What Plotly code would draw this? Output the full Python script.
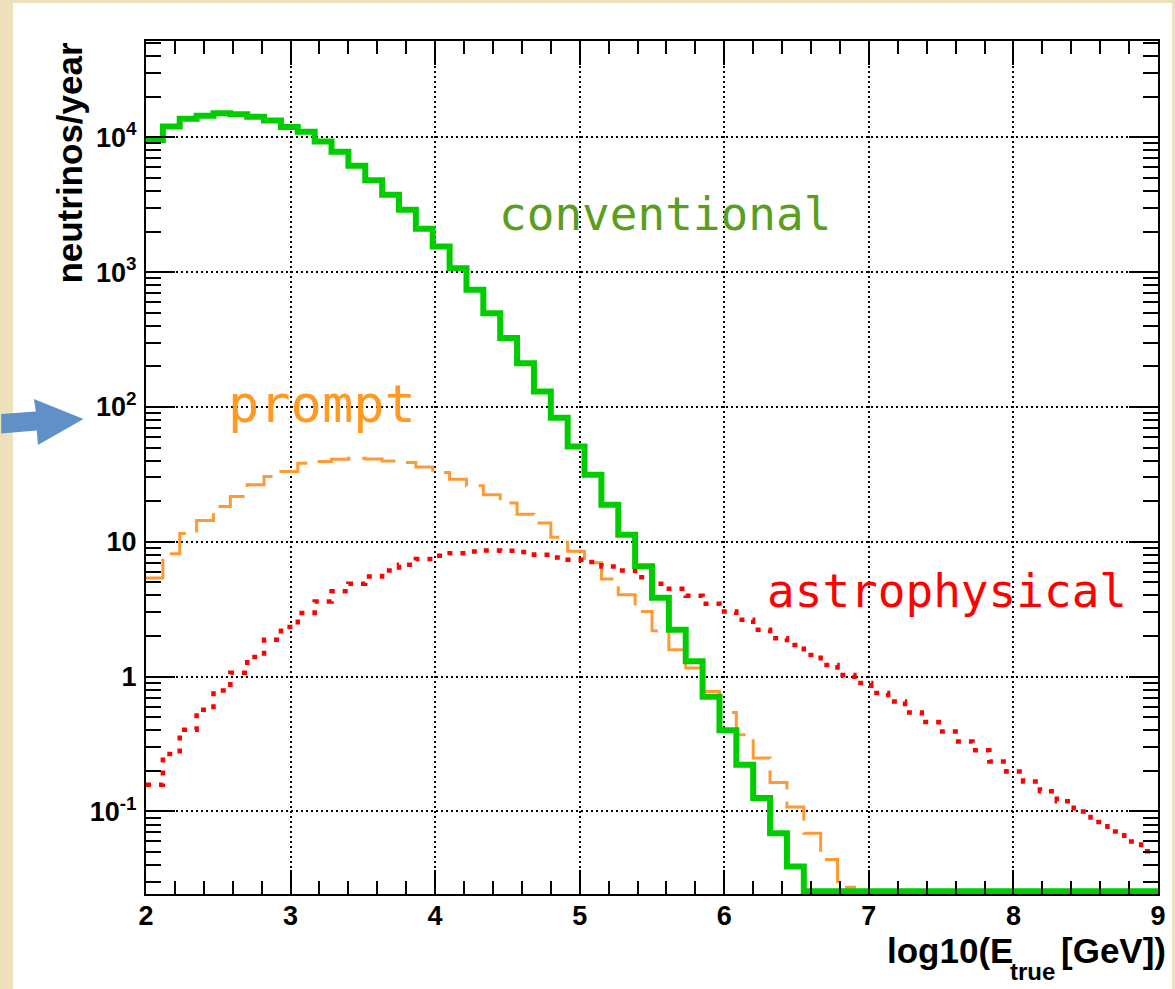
import numpy as np
import plotly.graph_objects as go

# ---------------- data (60 bins in log10(E/GeV) from 2 to 9) ----------------
x_lo, x_hi, n_bins = 2.0, 9.0, 60

conventional = [9500, 12000, 13700, 14450, 15100, 14800, 14200, 13300, 11900, 11000,
                9300, 7800, 6150, 4800, 3750, 2900, 2100, 1550, 1070, 740,
                495, 325, 211, 130, 83, 51, 31.4, 18.8, 11.3, 6.6,
                3.85, 2.23, 1.30, 0.71, 0.40, 0.222, 0.126, 0.069, 0.039, 0,
                0, 0, 0, 0, 0, 0, 0, 0, 0, 0,
                0, 0, 0, 0, 0, 0, 0, 0, 0, 0]

prompt = [5.4, 8.15, 11.5, 14.4, 18.3, 21.7, 26.5, 30.5, 33.2, 38.3,
          39.4, 41.0, 41.7, 41.2, 39.8, 38.7, 35.8, 32.7, 29.1, 26.0,
          22.3, 19.4, 16.0, 13.8, 10.8, 8.5, 7.0, 5.3, 4.05, 3.04,
          2.19, 1.58, 1.16, 0.776, 0.542, 0.37, 0.249, 0.164, 0.108, 0.069,
          0.044, 0.0274, 0, 0, 0, 0, 0, 0, 0, 0,
          0, 0, 0, 0, 0, 0, 0, 0, 0, 0]

astrophysical = [0.158, 0.267, 0.404, 0.569, 0.79, 1.07, 1.40, 1.88, 2.33, 2.96,
                 3.61, 4.29, 4.89, 5.53, 6.13, 6.76, 7.44, 7.88, 8.24, 8.47,
                 8.62, 8.58, 8.39, 8.01, 7.65, 7.36, 7.08, 6.56, 6.13, 5.47,
                 4.88, 4.48, 3.98, 3.47, 3.04, 2.64, 2.23, 1.93, 1.72, 1.45,
                 1.22, 1.03, 0.896, 0.755, 0.655, 0.543, 0.46, 0.392, 0.331, 0.284,
                 0.235, 0.198, 0.167, 0.141, 0.119, 0.100, 0.0835, 0.0711, 0.060, 0.0506]

x_tick_vals = [2, 3, 4, 5, 6, 7, 8, 9]
y_tick_vals = [0.1, 1, 10, 100, 1000, 10000]
y_tick_text = ["10<sup>-1</sup>", "1", "10", "10<sup>2</sup>", "10<sup>3</sup>", "10<sup>4</sup>"]

# ---------------- geometry ----------------
W, H = 1175, 989
L, R, T, B = 146, 9, 41, 95
PW, PH = W - L - R, H - T - B
Y_LO, Y_HI = -1.612, 4.714
floor = 10 ** (Y_LO + 0.02)  # empty bins drawn on the bottom edge (ROOT style)

edges = np.linspace(x_lo, x_hi, n_bins + 1)


def px(xp):
    return (xp - L) / PW


def py(yp):
    return (H - B - yp) / PH


def steps(vals):
    v = [a if a > floor else floor for a in vals]
    return edges, v + [v[-1]]


fig = go.Figure()
for vals, color, width, dash in [
    (prompt, "#ff9933", 3, "36px,12px"),
    (astrophysical, "#ff0000", 4.5, "5px,8px"),
    (conventional, "#00cc00", 6, "solid"),
]:
    xs, ys = steps(vals)
    fig.add_trace(go.Scatter(x=xs, y=ys, mode="lines",
                             line=dict(color=color, width=width, dash=dash, shape="hv"),
                             hoverinfo="skip"))

minor_y = [k * 10.0 ** n for n in range(-2, 5) for k in range(2, 10)
           if 10 ** Y_LO <= k * 10.0 ** n <= 10 ** Y_HI]

tick_font = dict(family="Liberation Sans", size=27, color="black", weight="bold")

fig.update_xaxes(range=[x_lo, x_hi], tickvals=x_tick_vals, ticks="inside", ticklen=24,
                 tickwidth=2, tickcolor="black",
                 minor=dict(dtick=0.2, tick0=2, ticks="inside", ticklen=13, tickwidth=2,
                            tickcolor="black", showgrid=False),
                 showline=True, linewidth=2, linecolor="black", mirror="allticks",
                 showgrid=True, gridcolor="black", gridwidth=1.5, griddash="2px,3px",
                 zeroline=False, tickfont=tick_font, ticklabelstandoff=-3)

fig.update_yaxes(type="log", range=[Y_LO, Y_HI], tickvals=y_tick_vals, ticktext=y_tick_text,
                 ticks="inside", ticklen=29, tickwidth=2, tickcolor="black",
                 minor=dict(tickvals=minor_y, ticks="inside", ticklen=15, tickwidth=2,
                            tickcolor="black", showgrid=False),
                 showline=True, linewidth=2, linecolor="black", mirror="allticks",
                 showgrid=True, gridcolor="black", gridwidth=1.5, griddash="2px,3px",
                 zeroline=False, tickfont=tick_font, ticklabelstandoff=2)

# white canvas over the parchment
fig.add_shape(type="rect", xref="paper", yref="paper", x0=px(12), x1=px(W + 5), y0=py(3), y1=py(H + 5),
              fillcolor="white", line=dict(width=0), layer="below")

# blue arrow pointing at 10^2
arrow_pts = [(0, 414), (35, 411.5), (33, 399), (83, 419), (37, 445), (36, 430.5), (0, 433.5)]
path = "M " + " L ".join(f"{px(a):.5f},{py(b):.5f}" for a, b in arrow_pts) + " Z"
fig.add_shape(type="path", xref="paper", yref="paper", path=path,
              fillcolor="#5f91c8", line=dict(width=0), layer="above")

label_font = "DejaVu Sans Mono"
fig.add_annotation(x=5.59, y=3.431, text="conventional", showarrow=False, xanchor="center",
                   yanchor="middle", font=dict(family=label_font, size=46, color="#5a9e1e"))
fig.add_annotation(x=3.22, y=2.02, text="prompt", showarrow=False, xanchor="center",
                   yanchor="middle", font=dict(family=label_font, size=52, color="#ff9922"))
fig.add_annotation(x=7.539, y=0.637, text="astrophysical", showarrow=False, xanchor="center",
                   yanchor="middle", font=dict(family=label_font, size=46, color="#ff0000"))

title_font = dict(family="Liberation Sans", size=35, color="black", weight="bold")
fig.add_annotation(xref="paper", yref="paper", x=px(69), y=py(163), text="neutrinos/year",
                   textangle=-90, showarrow=False, xanchor="center", yanchor="middle",
                   font=title_font)
fig.add_annotation(xref="paper", yref="paper", x=px(1022), y=py(972), text="log10(E",
                   showarrow=False, xanchor="right", yanchor="bottom", font=title_font)
fig.add_annotation(xref="paper", yref="paper", x=px(1015), y=py(987), text="true",
                   showarrow=False, xanchor="left", yanchor="bottom",
                   font=dict(family="Liberation Sans", size=24, color="black", weight="bold"))
fig.add_annotation(xref="paper", yref="paper", x=px(1176), y=py(972), text="[GeV])",
                   showarrow=False, xanchor="right", yanchor="bottom", font=title_font)

fig.update_layout(width=W, height=H, margin=dict(l=L, r=R, t=T, b=B),
                  paper_bgcolor="#efe0bc", plot_bgcolor="white", showlegend=False)

fig.write_html("out.html")
